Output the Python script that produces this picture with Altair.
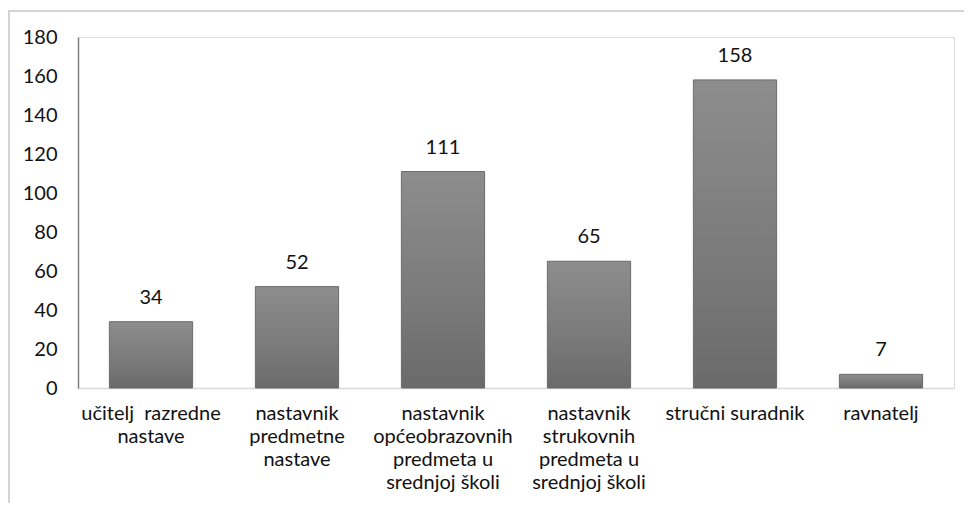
import altair as alt
import pandas as pd

categories = [
    "učitelj\u00a0 razredne|nastave",
    "nastavnik|predmetne|nastave",
    "nastavnik|općeobrazovnih|predmeta u|srednjoj školi",
    "nastavnik|strukovnih|predmeta u|srednjoj školi",
    "stručni suradnik",
    "ravnatelj",
]
values = [34, 52, 111, 65, 158, 7]
y_ticks = [0, 20, 40, 60, 80, 100, 120, 140, 160, 180]

df = pd.DataFrame({"cat": categories, "val": values})

FONT = "Lato"

x_enc = alt.X(
    "cat:N",
    sort=categories,
    title=None,
    scale=alt.Scale(paddingInner=0.43, paddingOuter=0.215),
    axis=alt.Axis(
        labelExpr="split(datum.label, '|')",
        labelAngle=0,
        ticks=False,
        tickSize=0,
        labelPadding=15,
        labelBaseline="top",
        labelFont=FONT,
        labelFontSize=20,
        labelLineHeight=23,
        labelColor="#111111",
        domainColor="#d9d9d9",
        domainWidth=1.5,
        labelLimit=300,
        labelOverlap=False,
    ),
)
y_enc = alt.Y(
    "val:Q",
    title=None,
    scale=alt.Scale(domain=[0, 180], nice=False),
    axis=alt.Axis(
        values=y_ticks,
        grid=False,
        ticks=False,
        tickSize=0,
        labelPadding=21,
        labelFont=FONT,
        labelFontSize=20,
        labelColor="#111111",
        domainColor="#7f7f7f",
        domainWidth=1.5,
        labelOverlap=False,
    ),
)

bars = alt.Chart(df).mark_bar(
    color=alt.Gradient(
        gradient="linear",
        stops=[
            alt.GradientStop(color="#8d8d8d", offset=0),
            alt.GradientStop(color="#7a7a7a", offset=0.6),
            alt.GradientStop(color="#6a6a6a", offset=1),
        ],
        x1=0, x2=0, y1=0, y2=1,
    ),
    stroke="#6b6b6b",
    strokeWidth=1,
).encode(x=x_enc, y=y_enc)

labels = alt.Chart(df).mark_text(
    font=FONT, fontSize=20, color="#111111", baseline="middle", dy=-24
).encode(x=x_enc, y=y_enc, text="val:Q")

border = alt.Chart(pd.DataFrame({"a": [0]})).mark_rect(
    fill=None, stroke="#d4d4d4", strokeWidth=2
).encode(
    x=alt.value(-69), x2=alt.value(1000), y=alt.value(-26), y2=alt.value(700)
)

chart = (
    alt.layer(border, bars, labels)
    .properties(
        width=876,
        height=351,
        autosize=alt.AutoSizeParams(type="none"),
        padding={"left": 70, "top": 29, "right": 10, "bottom": 115},
    )
    .configure_view(stroke=None)
    .configure(background="white")
)

chart.save("out.html", embed_options={"renderer": "svg", "actions": False})
